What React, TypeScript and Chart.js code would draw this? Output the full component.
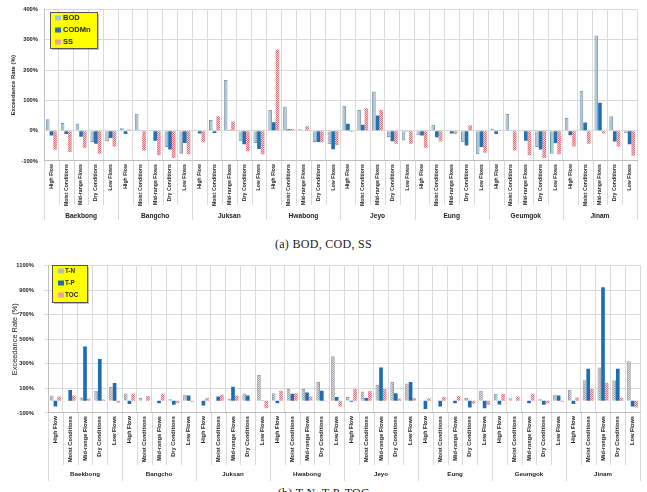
import React, { useEffect, useRef } from "react";
import { Chart, registerables } from "chart.js";

Chart.register(...registerables);

// Monitoring stations and the five flow-duration classes used at each one
const stations = ["Baekbong", "Bangcho", "Juksan", "Hwabong", "Jeyo", "Eung", "Geumgok", "Jinam"];
const flowConditions = ["High Flow", "Moist Conditions", "Mid-range Flows", "Dry Conditions", "Low Flows"];

// Exceedance rate (%) per station x flow class — organic matter and suspended solids
const bodRate = [
  38, 25, 24, -37, -36,
  8, 56, -3, -54, -76,
  -2, 35, 167, -35, -41,
  68, 80, 5, -37, -45,
  82, 68, 129, -21, -32,
  -15, 20, 2, -38, -78,
  6, 55, -3, -54, -76,
  42, 132, 314, 48, -8,
];
const codRate = [
  -16, -11, -20, -43, -24,
  -11, -2, -33, -62, -41,
  -9, -8, 1, -45, -60,
  28, 5, 0, -37, -61,
  23, 20, 50, -35, -3,
  -16, -22, -9, -49, -54,
  -11, -2, -33, -62, -41,
  -15, 27, 92, -36, -45,
];
const ssRate = [
  -63, -70, -56, -76, -52,
  4, -65, -81, -90, -78,
  -38, 48, 30, -68, -78,
  268, 6, 15, -38, -48,
  -4, 74, 68, -43, -43,
  -56, -36, -11, 18, -73,
  2, -65, -81, -90, -78,
  -52, -43, -9, -52, -83,
];

// Exceedance rate (%) per station x flow class — nutrients and total organic carbon
const tnRate = [
  43, 2, 27, 82, 111,
  59, 22, -3, 12, 48,
  -5, 2, 15, 59, 210,
  61, 95, 95, 153, 361,
  30, 74, 129, 153, 140,
  -3, -5, -3, 22, 82,
  56, 20, -3, 12, 48,
  90, 166, 270, 166, 321,
];
const tpRate = [
  -48, 87, 440, 340, 145,
  -27, 0, -20, -33, 43,
  -40, 35, 114, 43, 2,
  -20, 56, 67, 82, 30,
  -9, 22, 270, 61, 153,
  -67, -48, -20, -56, -61,
  -30, 0, -20, -33, 43,
  -27, 260, 922, 260, -48,
];
const tocRate = [
  35, 43, 17, 9, -17,
  56, 38, 56, -20, -9,
  22, 48, 43, -2, -61,
  82, 61, 35, -4, -48,
  95, 82, 95, 17, 22,
  17, 30, 38, -25, -35,
  54, 35, 56, -20, -9,
  27, 95, 147, 24, -56,
];

const categoryLabels = stations.flatMap(() => flowConditions);

const sans = "'Liberation Sans', Arial, sans-serif";
const gridColor = "#d9d9d9";

function dotPattern(dark: string, light: string): CanvasPattern | string {
  const c = document.createElement("canvas");
  c.width = 2;
  c.height = 2;
  const g = c.getContext("2d");
  if (!g) return dark;
  g.fillStyle = light;
  g.fillRect(0, 0, 2, 2);
  g.fillStyle = dark;
  g.fillRect(0, 0, 1, 1);
  g.fillRect(1, 1, 1, 1);
  return g.createPattern(c, "repeat") || dark;
}

// Draws the station row under the rotated flow-class labels plus the separator lines
const groupAxisPlugin = {
  id: "groupAxis",
  afterDraw(chart: any, _args: any, opts: any) {
    const { ctx, chartArea } = chart;
    const x = chart.scales.x;
    const n = flowConditions.length;
    const total = categoryLabels.length;
    const step = x.getPixelForValue(1) - x.getPixelForValue(0);
    ctx.save();
    ctx.strokeStyle = opts.lineColor;
    ctx.lineWidth = 1;
    for (let i = 0; i <= total; i++) {
      const px = Math.round(x.getPixelForValue(0) + (i - 0.5) * step) + 0.5;
      const isGroup = i % n === 0;
      ctx.beginPath();
      ctx.moveTo(px, chartArea.bottom);
      ctx.lineTo(px, chartArea.bottom + (isGroup ? opts.groupLen : opts.innerLen));
      ctx.stroke();
    }
    ctx.font = opts.font;
    ctx.fillStyle = "#222";
    ctx.textAlign = "center";
    ctx.textBaseline = "middle";
    stations.forEach((s, g) => {
      const c = (x.getPixelForValue(g * n) + x.getPixelForValue(g * n + n - 1)) / 2;
      ctx.fillText(s, c, chartArea.bottom + opts.labelOffset);
    });
    ctx.restore();
  },
};

// Yellow boxed legend sitting inside the plot area
const boxLegendPlugin = {
  id: "boxLegend",
  afterDraw(chart: any, _args: any, opts: any) {
    const { ctx } = chart;
    const { x, y, w, h, rows, swatchX, textX, font } = opts;
    ctx.save();
    ctx.fillStyle = "rgba(0,0,0,0.25)";
    ctx.fillRect(x + 2, y + 2, w, h);
    ctx.fillStyle = "#ffff00";
    ctx.fillRect(x, y, w, h);
    ctx.strokeStyle = "#555";
    ctx.lineWidth = 1;
    ctx.strokeRect(x + 0.5, y + 0.5, w, h);
    ctx.font = font;
    ctx.textBaseline = "middle";
    ctx.textAlign = "left";
    chart.data.datasets.forEach((ds: any, i: number) => {
      const cy = rows[i];
      ctx.fillStyle = ds.legendColor;
      ctx.fillRect(swatchX, cy - 2.5, 6, 5);
      ctx.fillStyle = "#222";
      ctx.fillText(ds.label, textX, cy);
    });
    ctx.restore();
  },
};

function barOptions(cfg: any) {
  return {
    responsive: false,
    animation: false,
    layout: { padding: { top: cfg.padTop, right: cfg.padRight, left: 0, bottom: 0 } },
    plugins: {
      legend: { display: false },
      tooltip: { enabled: false },
      groupAxis: cfg.groupAxis,
      boxLegend: cfg.legend,
    },
    scales: {
      x: {
        grid: { offset: true, color: gridColor, drawTicks: false },
        border: { color: "#bfbfbf" },
        ticks: {
          autoSkip: false,
          minRotation: 90,
          maxRotation: 90,
          padding: 3,
          color: "#222",
          font: { family: sans, size: cfg.xFont, weight: "bold" },
        },
        afterFit: (s: any) => {
          s.height = cfg.xHeight;
        },
      },
      y: {
        min: cfg.min,
        max: cfg.max,
        ticks: {
          stepSize: cfg.step,
          padding: cfg.yPad,
          color: "#222",
          font: { family: sans, size: 5.8, weight: "bold" },
          callback: (v: any) => v + "%",
        },
        grid: { color: gridColor, drawTicks: cfg.yTicks, tickLength: 4 },
        border: { color: "#bfbfbf" },
        title: {
          display: true,
          text: "Exceedance Rate (%)",
          color: "#222",
          font: { family: sans, size: cfg.titleSize, weight: cfg.titleWeight },
          padding: { top: cfg.titlePad, bottom: 0 },
        },
        afterFit: (s: any) => {
          s.width = cfg.yWidth;
        },
      },
    },
  };
}

export default function App() {
  const topRef = useRef<HTMLCanvasElement>(null);
  const bottomRef = useRef<HTMLCanvasElement>(null);

  useEffect(() => {
    if (!topRef.current || !bottomRef.current) return;
    const ssFill = dotPattern("#de6f78", "#f5c9cc");
    const tnFill = dotPattern("#9c9fa8", "#d6d7dc");
    const tocFill = dotPattern("#e07078", "#f6cdd0");
    const common = { categoryPercentage: 0.74, barPercentage: 1.0 };

    const top = new Chart(topRef.current, {
      type: "bar",
      data: {
        labels: categoryLabels,
        datasets: [
          { label: "BOD", data: bodRate, backgroundColor: "#a9c3d7", borderColor: "#7d98ad", borderWidth: 1, legendColor: "#a9c3d8", ...common } as any,
          { label: "CODMn", data: codRate, backgroundColor: "#2471b2", legendColor: "#2471b2", ...common } as any,
          { label: "SS", data: ssRate, backgroundColor: ssFill, legendColor: "#eba1a5", ...common } as any,
        ],
      },
      options: barOptions({
        padTop: 6,
        padRight: 10,
        xHeight: 71,
        xFont: 5.2,
        yWidth: 44,
        yPad: 6,
        yTicks: false,
        min: -100,
        max: 400,
        step: 100,
        titleSize: 6,
        titleWeight: "bold",
        titlePad: 10,
        groupAxis: { lineColor: gridColor, innerLen: 44, groupLen: 59, labelOffset: 55, font: `bold 6.6px ${sans}` },
        legend: { x: 50, y: 12, w: 47, h: 36, rows: [18, 30, 42], swatchX: 55, textX: 63, font: `bold 7.5px ${sans}` },
      }) as any,
      plugins: [groupAxisPlugin, boxLegendPlugin],
    });

    const bottom = new Chart(bottomRef.current, {
      type: "bar",
      data: {
        labels: categoryLabels,
        datasets: [
          { label: "T-N", data: tnRate, backgroundColor: tnFill, borderColor: "#9a9ca4", borderWidth: 1, legendColor: "#b8bac0", ...common } as any,
          { label: "T-P", data: tpRate, backgroundColor: "#1f6db0", legendColor: "#1f6db0", ...common } as any,
          { label: "TOC", data: tocRate, backgroundColor: tocFill, legendColor: "#eca3a7", ...common } as any,
        ],
      },
      options: barOptions({
        padTop: 8,
        padRight: 7,
        xHeight: 71,
        xFont: 5.7,
        yWidth: 48,
        yPad: 10,
        yTicks: true,
        min: -100,
        max: 1100,
        step: 200,
        titleSize: 7.4,
        titleWeight: "normal",
        titlePad: 10.5,
        groupAxis: { lineColor: gridColor, innerLen: 52, groupLen: 68, labelOffset: 61, font: `bold 6.2px ${sans}` },
        legend: { x: 52, y: 13, w: 35, h: 37, rows: [19, 31, 43], swatchX: 58, textX: 65, font: `bold 6.3px ${sans}` },
      }) as any,
      plugins: [groupAxisPlugin, boxLegendPlugin],
    });

    return () => {
      top.destroy();
      bottom.destroy();
    };
  }, []);

  const caption: React.CSSProperties = {
    position: "absolute",
    left: 0,
    width: 647,
    textAlign: "center",
    fontFamily: "'Liberation Serif', serif",
    fontSize: 12,
    lineHeight: "14px",
    color: "#222",
    letterSpacing: "0.3px",
  };

  return (
    <div style={{ position: "absolute", left: 0, top: 0, width: 647, height: 492, overflow: "hidden", background: "#fff" }}>
      <canvas ref={topRef} width={647} height={232} style={{ position: "absolute", left: 0, top: 0 }} />
      <div style={{ ...caption, top: 237 }}>(a) BOD, COD, SS</div>
      <canvas ref={bottomRef} width={647} height={232} style={{ position: "absolute", left: 0, top: 252 }} />
      <div style={{ ...caption, top: 486 }}>(b) T-N, T-P, TOC</div>
    </div>
  );
}
